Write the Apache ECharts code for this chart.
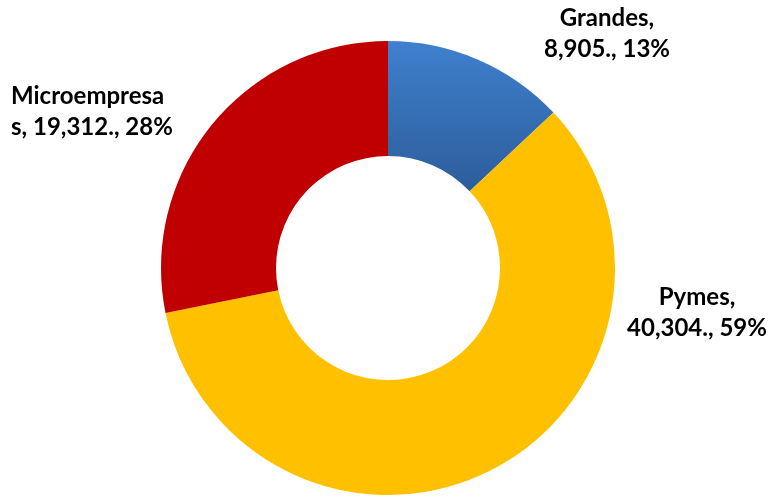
<!DOCTYPE html>
<html><head><meta charset="utf-8">
<script src="https://cdn.jsdelivr.net/npm/echarts@6/dist/echarts.min.js"></script>
<style>html,body{margin:0;padding:0;background:#fff}#c{width:772px;height:499px}</style>
</head><body><div id="c"></div>
<script>
const categories = ['Grandes', 'Pymes', 'Microempresas'];
const values = [8905, 40304, 19312];
const percents = [13, 59, 28];
const breakAt = [8, 6, 12];
const colors = [
  {type:'linear',x:0,y:0,x2:0,y2:1,colorStops:[{offset:0,color:'#3F80CE'},{offset:1,color:'#2C5D9A'}]},
  '#FFC000',
  '#C00000'
];
const labelPos = [
  {x:607, y:34, align:'center'},
  {x:697, y:313, align:'center'},
  {x:11, y:112, align:'left'}
];
const fmt = v => v.toLocaleString('en-US');
const chart = echarts.init(document.getElementById('c'));
chart.setOption({
  animation:false,
  series:[{
    type:'pie',
    center:[388,268],
    radius:[112,227],
    startAngle:90,
    clockwise:true,
    data: categories.map((n,i)=>({name:n, value:values[i], itemStyle:{color:colors[i]}})),
    itemStyle:{borderWidth:0},
    labelLine:{show:false},
    label:{
      show:true,
      position:'outside',
      overflow:'none',
      width:300,
      fontFamily:'Lato',
      fontWeight:'bold',
      fontSize:24,
      lineHeight:31,
      color:'#000',
      formatter: p => {
        const i = p.dataIndex;
        const s = p.name + ', ' + fmt(p.value) + '., ' + percents[i] + '%';
        const k = breakAt[i];
        return s.slice(0,k) + '\n' + s.slice(k).replace(/^ /,'');
      }
    },
    labelLayout: p => ({x:labelPos[p.dataIndex].x, y:labelPos[p.dataIndex].y, align:labelPos[p.dataIndex].align, verticalAlign:'middle'})
  }]
});
</script></body></html>
